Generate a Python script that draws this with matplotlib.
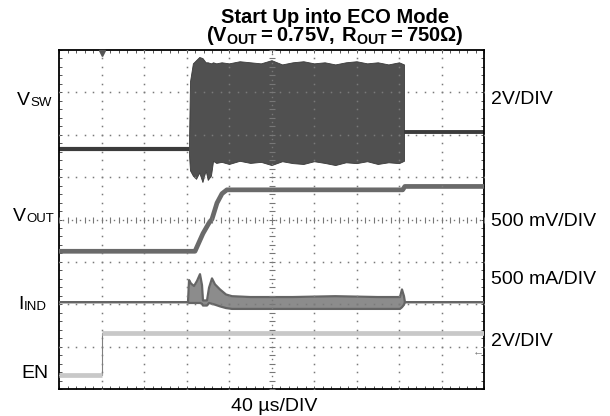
import numpy as np
import matplotlib
matplotlib.use("Agg")
import matplotlib.pyplot as plt

plt.rcParams["font.family"] = ["Liberation Sans", "DejaVu Sans"]
plt.rcParams["mathtext.fontset"] = "custom"
plt.rcParams["mathtext.rm"] = "Liberation Sans"
plt.rcParams["mathtext.bf"] = "Liberation Sans:bold"

W, H = 610, 416

# --- scope data, time in us (40 us/DIV) ---
trigger_us = 40

# V_SW (volts): idle before, switching burst envelope, idle after
vsw_pre_t = [0, 122.4]
vsw_pre_v = [0.0, 0.0]
vsw_post_t = [324.7, 400]
vsw_post_v = [0.8, 0.8]
burst_t = [122.4, 123.3, 126, 129, 132, 135, 138, 140, 143, 145, 148, 153, 160, 170,
           180, 190, 200, 210, 220, 230, 240, 250, 260, 270, 280, 290, 300, 310, 320, 324.7]
burst_top = [0.5, 3.2, 4.05, 4.2, 4.35, 4.3, 4.1, 4.1, 4.05, 4.1, 4.05, 4.1, 4.05, 4.15,
             4.1, 4.05, 4.2, 4.0, 4.1, 4.15, 4.05, 4.1, 4.0, 4.1, 4.15, 4.05, 4.1, 4.0, 4.1, 4.0]
burst_bot = [-0.3, -1.0, -1.25, -1.4, -1.1, -1.55, -1.0, -1.45, -1.25, -0.55, -0.65, -0.6, -0.7, -0.55,
             -0.65, -0.6, -0.75, -0.57, -0.66, -0.7, -0.57, -0.65, -0.75, -0.62, -0.66, -0.57, -0.7, -0.62, -0.66, -0.55]

# V_OUT (volts)
vout_t = [0, 128, 135.5, 141, 144, 148.7, 153.4, 158, 323.5, 325.5, 400]
vout_v = [0, 0, 0.21, 0.33, 0.38, 0.57, 0.68, 0.725, 0.725, 0.765, 0.765]

# I_IND (amps), upper / lower envelope
iind_t = [0, 121.4, 122.4, 124.2, 127.1, 129.9, 132.7, 134.6, 135.5, 139.3, 141.2, 144, 146.8,
          151.5, 157.2, 162.8, 180, 220, 260, 300, 320.9, 322.8, 324.7, 325.6, 400]
iind_hi = [0, 0, 0.26, 0.22, 0.19, 0.25, 0.33, 0.2, 0.02, 0.02, 0.17, 0.28, 0.21,
           0.15, 0.09, 0.07, 0.06, 0.06, 0.07, 0.06, 0.06, 0.15, 0.07, 0, 0]
iind_lo = [0, 0, -0.01, -0.01, -0.01, -0.01, -0.01, -0.02, -0.04, -0.04, -0.01, -0.02, -0.03,
           -0.05, -0.07, -0.08, -0.08, -0.08, -0.08, -0.08, -0.08, -0.06, -0.03, 0, 0]

# EN (volts)
en_t = [0, 40, 40, 400]
en_v = [0.0, 0.0, 2.0, 2.0]

# channel zero position (div) and scale (units/div)
pos = {"sw": 5.66, "out": 3.25, "ind": 2.05, "en": 0.33}
scale = {"sw": 2.0, "out": 0.5, "ind": 0.5, "en": 2.0}


def div(ch, vals):
    return pos[ch] + np.asarray(vals) / scale[ch]


fig = plt.figure(figsize=(W / 100, H / 100), dpi=100)
ax = fig.add_axes([59 / W, 1 - 389 / H, 425 / W, 339 / H])
ax.set_xlim(0, 400)
ax.set_ylim(0, 8)

# graticule
for k in range(1, 10):
    x = k * 40
    ys = np.arange(0, 8.001, 0.2)
    if k == 5:
        ax.plot(np.full_like(ys, x), ys, ls="none", marker="_", ms=4, mew=0.8, color="#777777", zorder=5)
        ys2 = ys[:-1] + 0.1
        ax.plot(np.full_like(ys2, x), ys2, ls="none", marker="s", ms=1.0, mew=0, color="#777777", zorder=5)
    else:
        ax.plot(np.full_like(ys, x), ys, ls="none", marker="s", ms=1.1, mew=0, color="#7a7a7a", zorder=5)
for k in range(1, 8):
    xs = np.arange(0, 400.1, 8)
    if k == 4:
        ax.plot(xs, np.full_like(xs, k), ls="none", marker="|", ms=4, mew=0.8, color="#777777", zorder=5)
        xs2 = xs[:-1] + 4
        ax.plot(xs2, np.full_like(xs2, k), ls="none", marker="s", ms=1.0, mew=0, color="#777777", zorder=5)
    else:
        ax.plot(xs, np.full_like(xs, k), ls="none", marker="s", ms=1.1, mew=0, color="#7a7a7a", zorder=5)

ax.set_xticks(np.arange(0, 400.1, 8))
ax.set_yticks(np.arange(0, 8.001, 0.2))
ax.tick_params(direction="in", length=2.5, width=0.7, color="#555555",
               top=True, right=True, labelbottom=False, labelleft=False)
for s in ax.spines.values():
    s.set_linewidth(1.3)

# V_SW
ax.fill_between(burst_t, div("sw", burst_top), div("sw", burst_bot), color="#505050", lw=0.6,
                edgecolor="#3a3a3a", zorder=2)
ax.plot(vsw_pre_t, div("sw", vsw_pre_v), color="#3c3c3c", lw=3.0, solid_capstyle="butt", zorder=2)
ax.plot(vsw_post_t, div("sw", vsw_post_v), color="#3c3c3c", lw=2.8, solid_capstyle="butt", zorder=2)

# V_OUT
ax.plot(vout_t, div("out", vout_v), color="#6a6a6a", lw=3.4, zorder=3)

# I_IND
ax.fill_between(iind_t, div("ind", iind_hi), div("ind", iind_lo), color="#8c8c8c", lw=0, zorder=3)
ax.plot(iind_t, div("ind", iind_hi), color="#656565", lw=1.6, zorder=3)
ax.plot(iind_t, div("ind", iind_lo), color="#656565", lw=1.6, zorder=3)

# EN
ax.plot(en_t, div("en", en_v), color="#808080", lw=0.8, zorder=3)
ax.plot(en_t[:2], div("en", en_v[:2]), color="#c8c8c8", lw=3.4, solid_capstyle="butt", zorder=3)
ax.plot(en_t[2:], div("en", en_v[2:]), color="#c8c8c8", lw=3.4, solid_capstyle="butt", zorder=3)

# trigger marker
ax.plot([trigger_us], [7.93], marker="v", ms=5, color="#555555", clip_on=False, zorder=6)


def fx(px):
    return px / W


def fy(py):
    return 1 - py / H


# title (two lines in one text)
fig.text(fx(335), fy(8), "Start Up into ECO Mode\n"
         r"$\mathbf{(V_{OUT} = 0.75V,\/R_{OUT} = 750\Omega)}$",
         fontsize=14.5, fontweight="bold", ha="center", va="top",
         multialignment="center", linespacing=0.85)


def sub_label(px, py, main, sub):
    t = fig.text(fx(px), fy(py), main, fontsize=14, va="baseline", ha="left")
    ax.annotate(sub, xy=(1, 0), xycoords=t, xytext=(0, 0), textcoords="offset points",
                fontsize=9.5, va="bottom", ha="left", annotation_clip=False)


sub_label(17, 105, "V", "SW")
sub_label(13, 221, "V", "OUT")
sub_label(18, 309, "I", "IND")
fig.text(fx(48), fy(378), "EN", fontsize=14, va="baseline", ha="right")

# right side scale labels
fig.text(fx(491), fy(100), "2V/DIV", fontsize=14, va="center", ha="left")
fig.text(fx(491), fy(221), "500 mV/DIV", fontsize=14, va="center", ha="left")
fig.text(fx(491), fy(279), "500 mA/DIV", fontsize=14, va="center", ha="left")
fig.text(fx(491), fy(342), "2V/DIV", fontsize=14, va="center", ha="left")
fig.text(fx(478), fy(351), "\u2190", fontsize=8, color="#777777", va="center", ha="center")

fig.text(fx(274), fy(411), "40 \u00b5s/DIV", fontsize=14, va="baseline", ha="center")

fig.savefig("out.png", dpi=100)
